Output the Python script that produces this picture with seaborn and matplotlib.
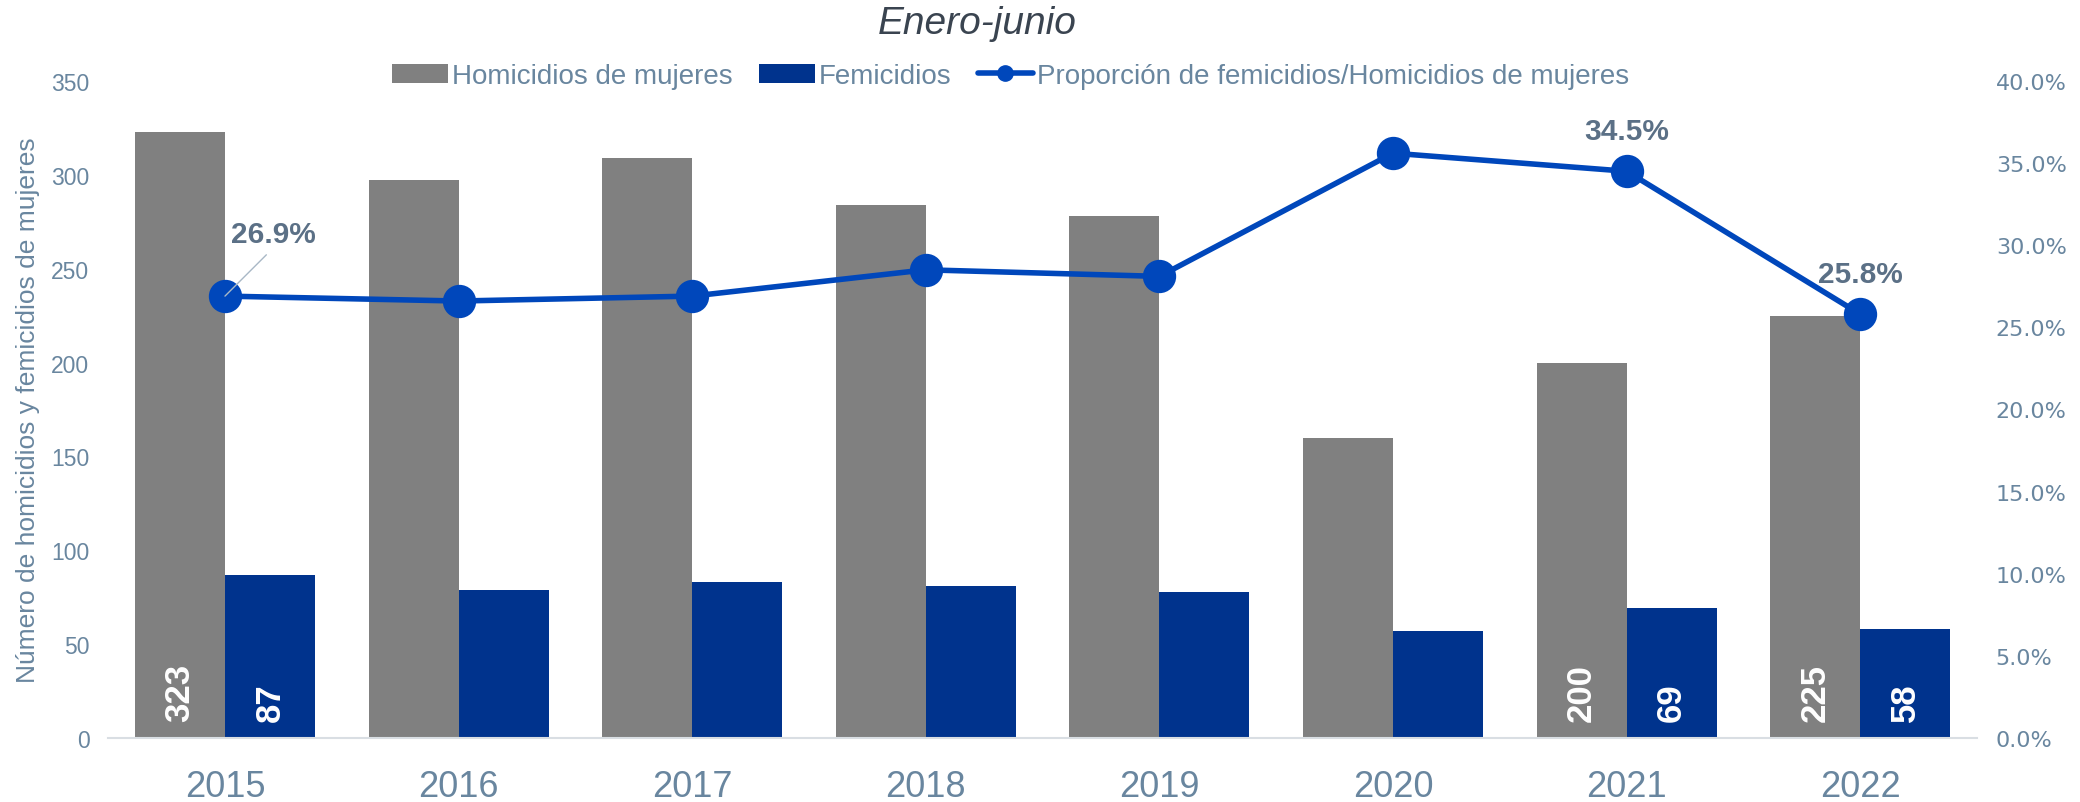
import numpy as np
import pandas as pd
import matplotlib
matplotlib.use("Agg")
import matplotlib.pyplot as plt
import seaborn as sns
from matplotlib.lines import Line2D
from matplotlib.ticker import FuncFormatter

# datos (enero-junio)
anios = ["2015", "2016", "2017", "2018", "2019", "2020", "2021", "2022"]
homicidios = [323, 297, 309, 284, 278, 160, 200, 225]
femicidios = [87, 79, 83, 81, 78, 57, 69, 58]
proporcion = [0.269, 0.266, 0.269, 0.285, 0.281, 0.356, 0.345, 0.258]
anios_etiqueta_barras = ["2015", "2021", "2022"]
anios_etiqueta_linea = ["2015", "2021", "2022"]

serie_hom = "Homicidios de mujeres"
serie_fem = "Femicidios"
serie_prop = "Proporción de femicidios/Homicidios de mujeres"

gris = "#808080"
azul = "#00338D"
azul_linea = "#0047BB"
txt = "#69869F"
txt_pct = "#5B7086"

df = pd.DataFrame({
    "Año": anios * 2,
    "Casos": homicidios + femicidios,
    "Serie": [serie_hom] * len(anios) + [serie_fem] * len(anios),
})
df_prop = pd.DataFrame({"Año": anios, "Proporción": proporcion})

sns.set_theme(style="white")
plt.rcParams["font.family"] = ["Liberation Sans", "DejaVu Sans"]

fig = plt.figure(figsize=(20.8, 8.03), dpi=100)
ax = fig.add_axes([0.052, 0.0797, 0.8985, 0.8183])

sns.barplot(data=df, x="Año", y="Casos", hue="Serie", palette=[gris, azul],
            width=0.77, saturation=1, linewidth=0, ax=ax)
handles_barras, labels_barras = ax.get_legend_handles_labels()
ax.get_legend().remove()

# etiquetas dentro de las barras
for cont, valores in zip(ax.containers, [homicidios, femicidios]):
    for rect, anio, v in zip(cont, anios, valores):
        if anio in anios_etiqueta_barras:
            ax.annotate(str(v), (rect.get_x() + rect.get_width() / 2, 0),
                        xytext=(0, 12), textcoords="offset points",
                        rotation=90, ha="center", va="bottom",
                        color="white", fontsize=25, fontweight="bold")

ax.set_ylim(0, 350)
ax.set_yticks(np.arange(0, 351, 50))
ax.set_xlim(-0.5, len(anios) - 0.5)
ax.set_xlabel("")
ax.set_ylabel("Número de homicidios y femicidios de mujeres", fontsize=19,
              color=txt, labelpad=8)
ax.tick_params(axis="y", length=0, pad=13.5, labelsize=16.5, labelcolor=txt)
ax.tick_params(axis="x", length=0, pad=22, labelsize=26, labelcolor=txt)
for s in ["top", "left", "right"]:
    ax.spines[s].set_visible(False)
ax.spines["bottom"].set_color("#D9DEE3")
ax.spines["bottom"].set_linewidth(1.5)

# eje secundario con la proporción
ax2 = ax.twinx()
sns.pointplot(data=df_prop, x="Año", y="Proporción", color=azul_linea,
              markers="o", markersize=21, linewidth=4, errorbar=None, ax=ax2)
ax2.set_ylim(0, 0.40)
ax2.set_yticks(np.arange(0, 0.401, 0.05))
ax2.yaxis.set_major_formatter(FuncFormatter(lambda v, p: f"{v * 100:.1f}%"))
ax2.set_ylabel("")
ax2.tick_params(axis="y", length=0, pad=13.5, labelsize=16, labelcolor=txt)
for lab in ax2.get_yticklabels():
    lab.set_family("DejaVu Sans")
for s in ["top", "left", "right", "bottom"]:
    ax2.spines[s].set_visible(False)
ax.set_xlim(-0.5, len(anios) - 0.5)

for i, (anio, p) in enumerate(zip(anios, proporcion)):
    if anio not in anios_etiqueta_linea:
        continue
    if i == 0:
        ax2.annotate(f"{p * 100:.1f}%", (i, p), xytext=(35, 45),
                     textcoords="offset points", ha="center", va="center",
                     fontsize=21.5, fontweight="bold", color=txt_pct,
                     arrowprops=dict(arrowstyle="-", color="#A9B8C6", lw=1,
                                     relpos=(0.5, 0), shrinkA=4, shrinkB=0),
                     zorder=5)
    else:
        ax2.annotate(f"{p * 100:.1f}%", (i, p), xytext=(0, 29),
                     textcoords="offset points", ha="center", va="center",
                     fontsize=21.5, fontweight="bold", color=txt_pct)

handle_linea = Line2D([], [], color=azul_linea, lw=4, marker="o", markersize=11)
fig.legend(handles_barras + [handle_linea], labels_barras + [serie_prop],
           loc="center", bbox_to_anchor=(0.486, 0.904), ncol=3, frameon=False,
           fontsize=20, labelcolor=txt, handlelength=2.0, handletextpad=0.15,
           columnspacing=0.95)

fig.text(0.47, 0.97, "Enero-junio", ha="center", va="center", fontsize=28,
         style="italic", color="#3A4450")

fig.savefig("out.png", dpi=100)
